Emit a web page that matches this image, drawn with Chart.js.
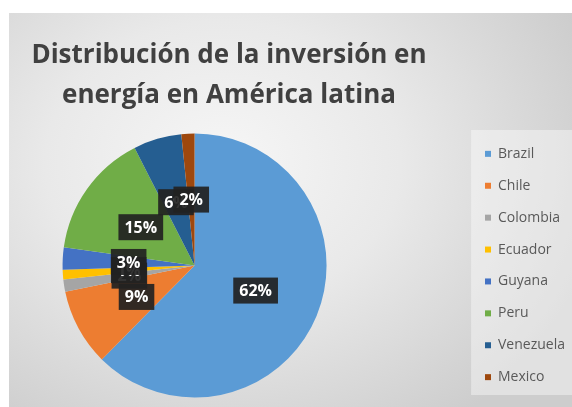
<!DOCTYPE html>
<html lang="es">
<head>
<meta charset="utf-8">
<title>Distribución de la inversión en energía en América latina</title>
<script src="https://cdn.jsdelivr.net/npm/chart.js@4.4.1/dist/chart.umd.min.js"></script>
<style>
  html, body { margin: 0; padding: 0; background: #fff; }
  body { width: 572px; height: 407px; position: relative; overflow: hidden; font-family: 'Open Sans', sans-serif; }
  #frame {
    position: absolute; left: 9px; top: 13px; width: 563px; height: 394px; overflow: hidden;
    background: radial-gradient(ellipse 70% 80% at 38% 38%, #f6f6f6 0%, #e9e9e9 45%, #cdcdcd 100%);
  }
  #title {
    position: absolute; left: -9px; top: 20px; width: 458px; z-index: 2;
    text-align: center; font-weight: 700; font-size: 26px; line-height: 40px; color: #404040;
  }
  /* canvas runs past the frame on the left so the pie sits where Excel put it */
  #plot { position: absolute; left: -87px; top: 0; width: 653px; height: 394px; }
</style>
</head>
<body>
<div id="frame">
  <div id="title">Distribución de la inversión en<br>energía en América latina</div>
  <div id="plot"><canvas id="chart"></canvas></div>
</div>
<script>
const categories = ['Brazil', 'Chile', 'Colombia', 'Ecuador', 'Guyana', 'Peru', 'Venezuela', 'Mexico']
const shares = [62.4, 9.4, 1.5, 1.2, 2.7, 15.3, 5.9, 1.6]
const colors = ['#5B9BD5', '#ED7D31', '#A5A5A5', '#FFC000', '#4472C4', '#70AD47', '#255E91', '#9E480E']

Chart.defaults.font.family = "'Open Sans', sans-serif"

// lighter panel behind the legend
const legendPanel = {
  id: 'legendPanel',
  beforeDraw(chart) {
    const lg = chart.legend
    if (!lg) return
    const { ctx } = chart
    ctx.save()
    ctx.fillStyle = 'rgba(255,255,255,0.4)'
    ctx.fillRect(lg.left + 4, lg.top + 6, lg.width, lg.height - 18)
    ctx.restore()
  },
}

// dark boxed percentage labels, Excel style
const boxLabels = {
  id: 'boxLabels',
  afterDatasetsDraw(chart) {
    const { ctx } = chart
    const meta = chart.getDatasetMeta(0)
    const values = chart.data.datasets[0].data
    const total = values.reduce((a, b) => a + b, 0)
    ctx.save()
    ctx.font = "bold 16px 'Open Sans', sans-serif"
    ctx.textAlign = 'center'
    ctx.textBaseline = 'middle'
    meta.data.forEach((arc, i) => {
      const { x, y } = arc.tooltipPosition()
      const txt = Math.round((values[i] / total) * 100) + '%'
      const w = ctx.measureText(txt).width + 12
      const h = 26
      ctx.fillStyle = 'rgba(34,34,34,0.92)'
      ctx.fillRect(x - w / 2, y - h / 2, w, h)
      ctx.fillStyle = '#ffffff'
      ctx.fillText(txt, x, y + 1)
    })
    ctx.restore()
  },
}

new Chart(document.getElementById('chart'), {
  type: 'pie',
  data: {
    labels: categories,
    datasets: [{
      data: shares,
      backgroundColor: colors,
      borderWidth: 0,
      radius: 132,
    }],
  },
  options: {
    responsive: true,
    maintainAspectRatio: false,
    animation: false,
    layout: { padding: { top: 111, bottom: 0, left: 0, right: 0 } },
    plugins: {
      title: { display: false },
      tooltip: { enabled: false },
      legend: {
        position: 'right',
        align: 'center',
        labels: {
          boxWidth: 6,
          boxHeight: 6,
          padding: 17.9,
          color: '#595959',
          font: { size: 14 },
        },
      },
    },
  },
  plugins: [legendPanel, boxLabels],
})
</script>
</body>
</html>
